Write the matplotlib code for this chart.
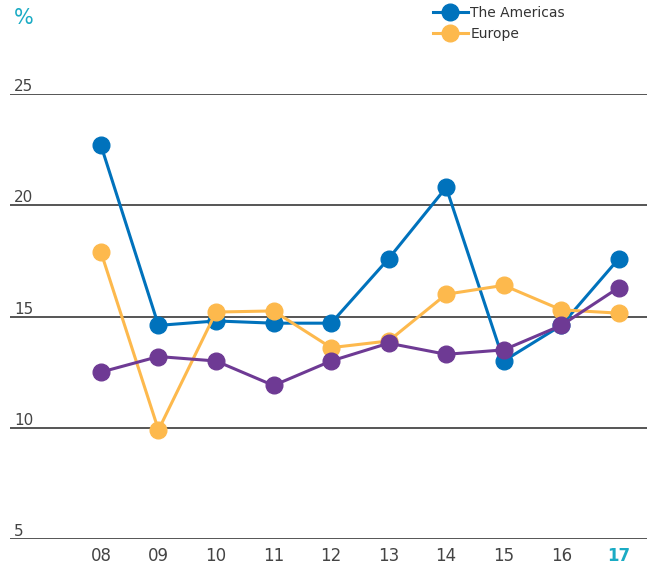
import matplotlib.pyplot as plt
import matplotlib.transforms as mtransforms

plt.rcParams['font.family'] = ['Liberation Sans Narrow', 'DejaVu Sans']

years = ['08', '09', '10', '11', '12', '13', '14', '15', '16', '17']
americas = [22.7, 14.6, 14.8, 14.7, 14.7, 17.6, 20.8, 13.0, 14.6, 17.6]
europe = [17.9, 9.9, 15.2, 15.25, 13.6, 13.9, 16.0, 16.4, 15.3, 15.15]
other = [12.5, 13.2, 13.0, 11.9, 13.0, 13.8, 13.3, 13.5, 14.6, 16.3]
y_ticks = [5, 10, 15, 20, 25]

blue = '#0072BC'
orange = '#FDB94D'
purple = '#6E3A94'
teal = '#1AABC4'
grey = '#555555'

fig = plt.figure(figsize=(6.6, 5.68), dpi=100)
ax = fig.add_axes([10 / 660, 1 - 539 / 568, 637 / 660, 445 / 568])

x = list(range(len(years)))
style = dict(linewidth=2.2, marker='o', markersize=12, clip_on=False, zorder=3)
ax.plot(x, americas, color=blue, label='The Americas', **style)
ax.plot(x, europe, color=orange, label='Europe', **style)
ax.plot(x, other, color=purple, **style)

ax.set_xlim(-1.58, 9.49)
ax.set_ylim(5, 25)

for v in y_ticks:
    ax.axhline(v, color=grey, linewidth=1.4, zorder=1)
trans = mtransforms.blended_transform_factory(fig.transFigure, ax.transData)
for v in y_ticks:
    ax.text(14 / 660, v, str(v), transform=trans, ha='left', va='bottom',
            fontsize=11, color='#444444')

ax.set_xticks(x)
ax.set_xticklabels(years, fontsize=12, color='#444444')
ax.tick_params(axis='x', length=0, pad=6)
lbl = ax.get_xticklabels()[-1]
lbl.set_color(teal)
lbl.set_fontweight('bold')
ax.set_yticks([])
for s in ax.spines.values():
    s.set_visible(False)

fig.text(14 / 660, 1 - 18 / 568, '%', color=teal, fontsize=15, ha='left', va='center')

leg = fig.legend(loc='upper left', bbox_to_anchor=(433 / 660, 1 - 6 / 568), frameon=False,
                 fontsize=10, handlelength=2.5, handletextpad=0.2, labelspacing=0.5,
                 markerscale=1.0, borderaxespad=0, borderpad=0)
for t in leg.get_texts():
    t.set_color('#333333')

fig.savefig('out.png', dpi=100)
